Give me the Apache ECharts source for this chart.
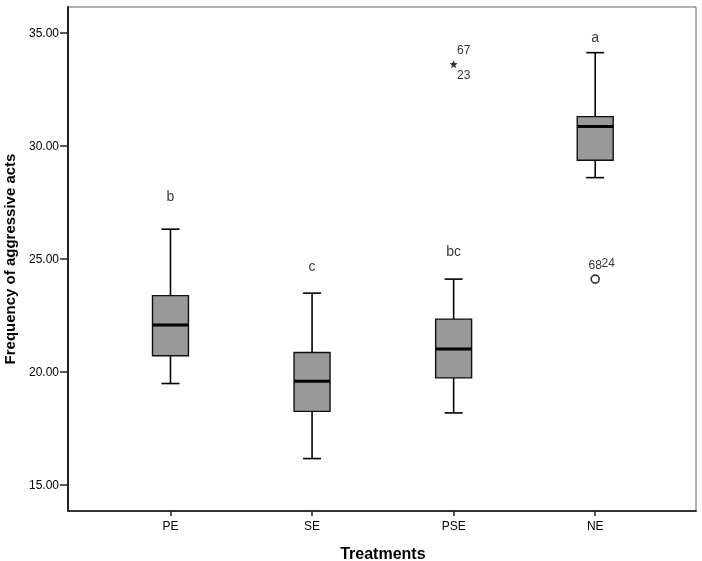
<!DOCTYPE html>
<html>
<head>
<meta charset="utf-8">
<title>Frequency of aggressive acts by treatment</title>
<script src="https://cdn.jsdelivr.net/npm/echarts@6/dist/echarts.min.js"></script>
<style>
  html, body { margin: 0; padding: 0; background: #fff; }
  #chart { width: 702px; height: 561px; }
</style>
</head>
<body>
<div id="chart"></div>
<script>
// 各处理组的箱线图数据
const categories = ['PE', 'SE', 'PSE', 'NE']
const whiskerLow = [19.5, 16.18, 18.2, 28.61]
const quartile1 = [20.73, 18.27, 19.75, 29.38]
const medians = [22.09, 19.6, 21.03, 30.87]
const quartile3 = [23.39, 20.87, 22.35, 31.31]
const whiskerHigh = [26.33, 23.5, 24.12, 34.14]

// 显著性字母
const letters = ['b', 'c', 'bc', 'a']
const letterValues = [27.76, 24.66, 25.32, 34.8]

// 离群值：类别、数值、类型（extreme = 星号，mild = 圆圈）、个案编号
const outlierCats = ['PSE', 'NE']
const outlierValues = [33.63, 24.12]
const outlierKinds = ['extreme', 'mild']
const outlierCases = [['67', '23'], ['68', '24']]

// y 轴刻度
const yTicks = [15, 20, 25, 30, 35]
const yMin = 13.86
const yMax = 36.16

const FONT = '"Liberation Sans", Arial, sans-serif'
const chart = echarts.init(document.getElementById('chart'))

const boxData = categories.map((c, i) => [i, whiskerLow[i], quartile1[i], medians[i], quartile3[i], whiskerHigh[i]])

// 箱体、中位线、须线与端帽
function renderBox(params, api) {
  const i = api.value(0)
  const pLow = api.coord([i, api.value(1)])
  const pQ1 = api.coord([i, api.value(2)])
  const pMed = api.coord([i, api.value(3)])
  const pQ3 = api.coord([i, api.value(4)])
  const pHigh = api.coord([i, api.value(5)])
  const band = api.size([1, 0])[0]
  const hw = band * 0.127
  const cw = hw * 0.5
  const cx = pMed[0]
  const line = { stroke: '#000', lineWidth: 1.6 }
  return {
    type: 'group',
    children: [
      { type: 'line', shape: { x1: cx, y1: pHigh[1], x2: cx, y2: pQ3[1] }, style: line },
      { type: 'line', shape: { x1: cx, y1: pQ1[1], x2: cx, y2: pLow[1] }, style: line },
      { type: 'line', shape: { x1: cx - cw, y1: pHigh[1], x2: cx + cw, y2: pHigh[1] }, style: line },
      { type: 'line', shape: { x1: cx - cw, y1: pLow[1], x2: cx + cw, y2: pLow[1] }, style: line },
      {
        type: 'rect',
        shape: { x: cx - hw, y: pQ3[1], width: hw * 2, height: pQ1[1] - pQ3[1] },
        style: { fill: '#999999', stroke: '#111', lineWidth: 1.4 }
      },
      { type: 'line', shape: { x1: cx - hw, y1: pMed[1], x2: cx + hw, y2: pMed[1] }, style: { stroke: '#000', lineWidth: 3 } }
    ]
  }
}

const starPath = 'path://M0,-10L2.6,-3.6L9.5,-3.1L4.2,1.4L5.9,8.1L0,4.4L-5.9,8.1L-4.2,1.4L-9.5,-3.1L-2.6,-3.6Z'

const outlierData = outlierCats.map((c, i) => ({
  value: [categories.indexOf(c), outlierValues[i]],
  symbol: outlierKinds[i] === 'extreme' ? starPath : 'circle',
  symbolSize: 8,
  itemStyle: outlierKinds[i] === 'extreme'
    ? { color: '#000', borderWidth: 0 }
    : { color: '#fff', borderColor: '#000', borderWidth: 1.6 }
}))

// 个案编号标签的相对位置
const caseOffsets = { extreme: [[10, -13], [10, 12]], mild: [[0, -13], [13, -15]] }
const caseLabelData = []
outlierCats.forEach((c, i) => {
  outlierCases[i].forEach((txt, k) => {
    caseLabelData.push({
      value: [categories.indexOf(c), outlierValues[i]],
      label: { formatter: txt, offset: caseOffsets[outlierKinds[i]][k] }
    })
  })
})

const letterData = letters.map((l, i) => ({ value: [i, letterValues[i]], label: { formatter: l } }))

chart.setOption({
  animation: false,
  backgroundColor: '#fff',
  textStyle: { fontFamily: FONT },
  grid: [
    { left: 68, top: 7, right: 6, bottom: 50, outerBoundsMode: 'none', show: true, borderColor: '#666', borderWidth: 1, backgroundColor: 'transparent' },
    { left: 99.7, top: 7, right: 36, bottom: 50, outerBoundsMode: 'none' }
  ],
  xAxis: [
    {
      gridIndex: 0, type: 'value', min: 0, max: 1,
      axisLine: { show: true, lineStyle: { color: '#333', width: 2 } },
      axisTick: { show: false }, axisLabel: { show: false }, splitLine: { show: false }
    },
    {
      gridIndex: 1, type: 'category', data: categories,
      axisLine: { show: false },
      axisTick: { show: true, alignWithLabel: true, length: 5, lineStyle: { color: '#222', width: 1.5 } },
      axisLabel: { color: '#000', fontSize: 12, margin: 10 },
      name: 'Treatments', nameLocation: 'middle', nameGap: 36,
      nameTextStyle: { fontSize: 16, fontWeight: 'bold', color: '#000' }
    }
  ],
  yAxis: [
    {
      gridIndex: 0, type: 'value', min: yMin, max: yMax,
      axisLine: { show: true, lineStyle: { color: '#222', width: 2 } },
      axisTick: { show: true, length: 8, customValues: yTicks, lineStyle: { color: '#222', width: 1.5 } },
      axisLabel: { customValues: yTicks, formatter: v => v.toFixed(2), color: '#000', fontSize: 12, margin: 9 },
      splitLine: { show: false },
      name: 'Frequency of aggressive acts', nameLocation: 'middle', nameGap: 48,
      nameTextStyle: { fontSize: 15, fontWeight: 'bold', color: '#000' }
    },
    { gridIndex: 1, type: 'value', min: yMin, max: yMax, show: false }
  ],
  series: [
    {
      type: 'custom', xAxisIndex: 1, yAxisIndex: 1,
      renderItem: renderBox, data: boxData,
      encode: { x: 0, y: [1, 2, 3, 4, 5] }
    },
    {
      type: 'scatter', xAxisIndex: 1, yAxisIndex: 1, data: outlierData
    },
    {
      type: 'scatter', xAxisIndex: 1, yAxisIndex: 1, symbolSize: 0, data: caseLabelData,
      label: { show: true, position: 'inside', fontSize: 12, color: '#000' }
    },
    {
      type: 'scatter', xAxisIndex: 1, yAxisIndex: 1, symbolSize: 0, data: letterData,
      label: { show: true, position: 'inside', fontSize: 14, color: '#000' }
    }
  ]
})

window.addEventListener('resize', () => chart.resize())
</script>
</body>
</html>
